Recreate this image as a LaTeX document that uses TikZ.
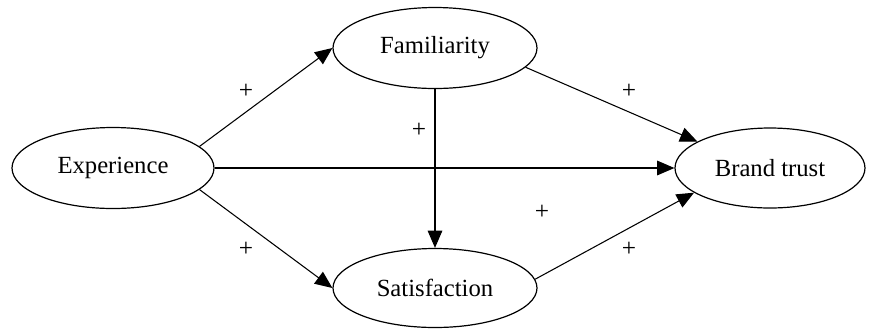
\documentclass[tikz,border=0pt]{standalone}
\usepackage{fontspec}
\setmainfont{Liberation Serif}
\usetikzlibrary{shapes.geometric,arrows.meta}
\begin{document}
\begin{tikzpicture}[x=0.75pt,y=-0.75pt,
  construct/.style={draw,ellipse,line width=0.9pt,inner sep=0pt,font=\fontsize{18.5}{20}\selectfont},
  link/.style={line width=0.8pt,-{Triangle[length=13pt,width=11pt]}},
  plus/.style={font=\fontsize{19}{20}\selectfont,inner sep=0pt}]
\useasboundingbox (0,0) rectangle (869,330);
\node[construct,minimum width=151.5pt,minimum height=60.75pt] (exp) at (113,168) {Experience};
\node[construct,minimum width=153pt,minimum height=60.75pt] (fam) at (435,48) {Familiarity};
\node[construct,minimum width=153pt,minimum height=59.25pt] (sat) at (435,288) {Satisfaction};
\node[construct,minimum width=142.5pt,minimum height=60pt] (bt) at (770,168) {Brand trust};
\draw[link] (exp.14) -- (fam.west);
\draw[link] (exp.-14) -- (sat.west);
\draw[link] (exp.east) -- (bt.west);
\draw[link] (fam.south) -- (sat.north);
\draw[link] (fam.-12) -- (bt.160);
\draw[link] (sat.5) -- (bt.198);
\node[plus] (p1) at (246,91) {+};
\node[plus] (p2) at (629,91) {+};
\node[plus] (p3) at (419,130) {+};
\node[plus] (p4) at (542,212) {+};
\node[plus] (p5) at (246,249) {+};
\node[plus] (p6) at (629,249) {+};
\end{tikzpicture}
\end{document}
